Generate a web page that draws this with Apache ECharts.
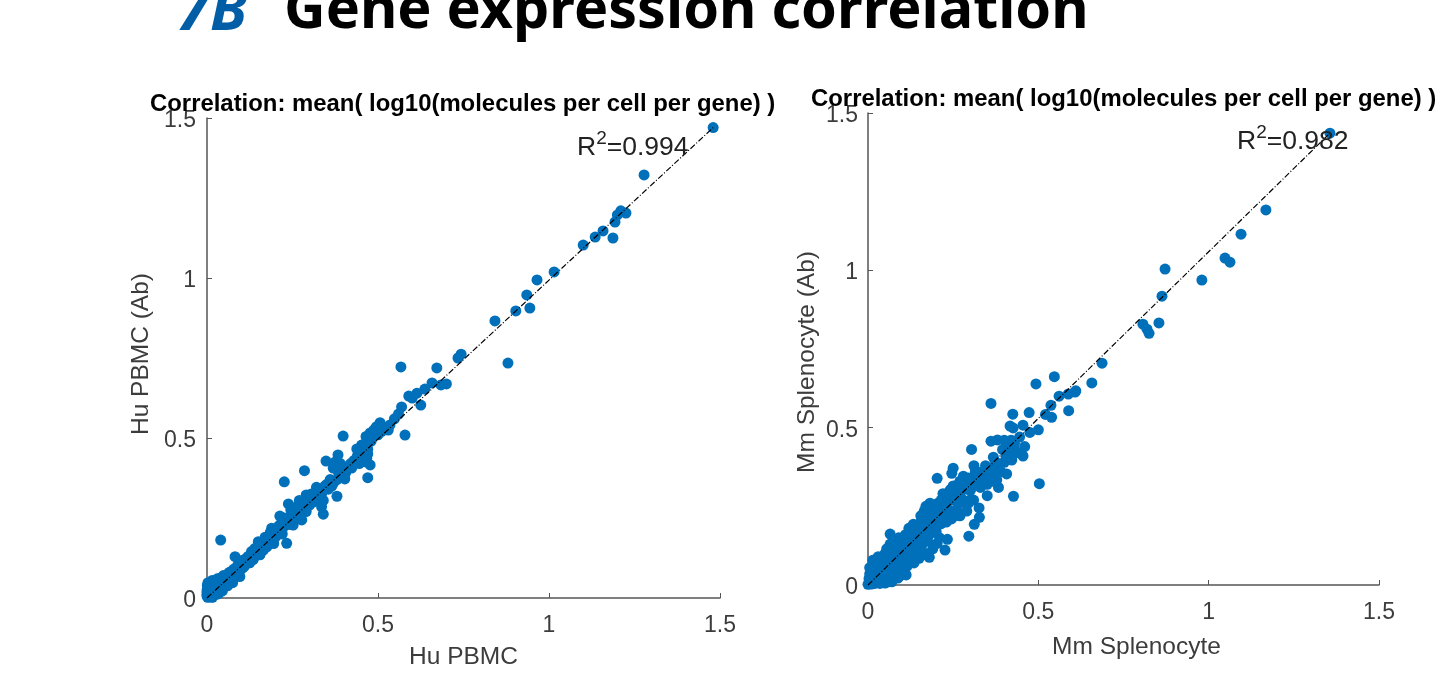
<!DOCTYPE html>
<html>
<head>
<meta charset="utf-8">
<style>html,body{margin:0;padding:0;background:#fff}#main{width:1444px;height:693px}</style>
<script src="https://cdn.jsdelivr.net/npm/echarts@6/dist/echarts.min.js"></script>
</head>
<body>
<div id="main"></div>
<script>
// values, [x, y]
var tickLabels = ['0', '0.5', '1', '1.5'];

var huPoints = [
  [1.48,1.47],[1.278,1.322],[1.21,1.21],[1.225,1.203],[1.2,1.197],[1.193,1.175],[1.187,1.125],[1.158,1.147],[1.135,1.128],[1.10,1.103],
  [1.015,1.019],[.965,.994],[.935,.947],[.944,.906],[.903,.897],[.842,.866],[.88,.734],[.743,.762],[.734,.75],[.672,.719],[.567,.722],
  [.70,.669],[.684,.666],[.658,.672],[.637,.653],[.614,.64],[.59,.631],[.625,.603],[.6,.625],[.569,.597],[.579,.509],[.56,.575],[.548,.56],[.535,.541],
  [.506,.548],[.495,.535],[.477,.516],[.398,.506],[.488,.525],[.465,.505],[.452,.478],[.438,.466],[.47,.376],[.467,.437],[.477,.416],[.46,.426],[.47,.45],[.423,.406],[.43,.43],
  [.403,.372],[.383,.447],[.369,.406],[.375,.425],[.39,.42],[.41,.41],[.348,.428],[.38,.318],[.34,.262],[.285,.398],[.226,.363],[.04,.181],
  [.36,.37],[.35,.355],[.335,.285],[.34,.305],[.33,.34],[.32,.346],[.31,.325],[.29,.322],[.3,.31],[.277,.244],[.28,.29],[.27,.305],[.262,.285],[.252,.228],
  [.238,.294],[.245,.255],[.233,.171],[.23,.24],[.22,.215],[.213,.256],[.205,.2],[.2,.215],[.189,.218],[.195,.17],[.185,.185],[.175,.16],[.17,.19],[.165,.15],
  [.15,.176],[.155,.135],[.145,.15],[.135,.12],[.13,.145],[.125,.11],[.118,.125],[.11,.1],[.105,.118],[.096,.067],[.1,.09],[.092,.105],[.085,.078],[.082,.129],
  [.078,.09],[.072,.06],[.07,.082],[.065,.068],[.06,.05],[.06,.074],[.055,.062],[.05,.042],[.05,.066],[.045,.05],[.042,.036],[.04,.056],[.036,.044],[.033,.026],
  [.03,.05],[.028,.034],[.025,.02],[.024,.042],[.02,.028],[.018,.012],[.016,.04],[.014,.022],[.012,.008],[.01,.032],[.008,.016],[.006,.004],[.005,.024],[.003,.01],
  [.002,.002],[.001,.018],[0,.006],[.001,.028],[.012,.003],[.022,.012],[.035,.015],[.26,.25],[.31,.3],[.37,.36],[.42,.42],[.215,.23],[.16,.17],[.12,.13],[.29,.27],[.255,.27]
];

// extra dots inside the dense band of the left panel
var huBand = [
  [.44,.445],[.45,.455],[.455,.44],[.445,.42],[.47,.465],[.48,.49],[.5,.51],[.51,.52],[.52,.53],[.53,.525],[.385,.39],[.395,.395],[.4,.4],[.405,.39],[.38,.37],[.365,.35],[.355,.34],[.345,.35],
  [.335,.325],[.325,.315],[.315,.31],[.305,.325],[.3,.29],[.295,.3],[.285,.285],[.275,.27],[.27,.26],[.265,.27],[.25,.245],[.245,.275],[.24,.23],[.235,.25],[.225,.225],[.225,.25],[.22,.2],[.215,.205],
  [.21,.225],[.205,.215],[.2,.19],[.195,.2],[.19,.195],[.185,.205],[.18,.175],[.175,.18],[.17,.165],[.165,.175],[.16,.15],[.155,.16],[.15,.145],[.145,.135],[.14,.155],[.14,.13],[.135,.14],[.13,.12],
  [.125,.13],[.12,.115],[.115,.11],[.11,.12],[.105,.095],[.1,.105],[.095,.085],[.09,.1],[.09,.08],[.085,.095],[.08,.07],[.08,.085],[.075,.075],[.07,.065],[.065,.08],[.065,.055],[.06,.062],[.055,.05],
  [.05,.055],[.048,.07],[.045,.035],[.04,.045],[.038,.062],[.035,.03],[.032,.04],[.03,.06],[.028,.022],[.025,.035],[.022,.05],[.02,.018],[.018,.035],[.015,.055],[.015,.012],[.012,.025],[.01,.045],
  [.008,.006],[.006,.035],[.004,.015],[.003,.048],[.002,.03],[.001,.04],[0,.012],[0,.022],[.016,.002],[.03,.012],[.045,.022],[.06,.038],[.075,.048]
];

var mmPoints = [
  [1.356,1.436],[1.168,1.192],[1.095,1.115],[1.048,1.039],[1.0625,1.026],[.98,.969],[.872,1.004],[.863,.918],[.854,.833],[.807,.829],[.819,.813],[.825,.80],
  [.687,.705],[.657,.642],[.608,.613],[.547,.662],[.493,.639],[.361,.577],[.425,.543],[.473,.548],[.537,.571],[.589,.554],[.561,.60],[.588,.607],[.61,.617],[.521,.542],[.539,.533],
  [.304,.431],[.203,.339],[.246,.355],[.25,.371],[.503,.322],[.427,.282],[.296,.155],[.312,.193],[.327,.215],[.326,.245],[.226,.111],[.233,.145],[.203,.132],[.18,.088],
  [.065,.162],[.014,.079],[.5,.493],[.455,.508],[.417,.505],[.426,.499],[.38,.461],[.361,.457],[.455,.41],[.422,.397],[.368,.406],[.311,.379],[.345,.379],[.28,.346],
  [.407,.353],[.383,.31],[.378,.334],[.35,.284],[.244,.305],[.182,.26],[.133,.193],[.088,.022],[.112,.032],[.128,.079],[.05,.006],
  [.475,.485],[.445,.47],[.46,.44],[.43,.45],[.41,.445],[.395,.43],[.44,.42],[.4,.39],[.385,.385],[.36,.37],[.39,.36],[.335,.36],[.32,.35],[.345,.335],[.31,.33],[.295,.34],
  [.33,.31],[.3,.3],[.28,.31],[.265,.32],[.25,.315],[.27,.28],[.31,.27],[.285,.26],[.26,.295],[.24,.275],[.22,.29],[.205,.26],[.21,.245],[.235,.24],[.26,.24],[.29,.235],[.245,.21],
  [.225,.22],[.2,.225],[.19,.25],[.175,.21],[.19,.19],[.215,.195],[.165,.235],[.155,.2],[.16,.17],[.18,.16],[.2,.17],[.145,.17],[.125,.16],[.14,.145],[.16,.13],[.14,.115],
  [.12,.135],[.105,.15],[.095,.12],[.115,.1],[.13,.1],[.1,.095],[.085,.13],[.08,.1],[.09,.075],[.11,.065],[.1,.05],[.07,.115],[.07,.08],[.06,.095],[.075,.055],[.085,.04],
  [.055,.07],[.05,.1],[.04,.085],[.06,.045],[.045,.055],[.065,.02],[.04,.03],[.03,.065],[.025,.045],[.02,.06],[.03,.02],[.015,.03],[.012,.05],[.01,.015],[.005,.035],[.004,.008],[0,.002],[.02,.005],[.035,.005],[.07,.01]
];

// extra dots inside the dense band of the right panel
var mmBand = [
  [.43,.43],[.415,.42],[.405,.41],[.42,.46],[.4,.46],[.375,.39],[.37,.36],[.355,.35],[.34,.35],[.35,.32],[.365,.33],[.325,.34],[.315,.36],[.305,.31],[.29,.32],[.3,.27],[.275,.3],[.27,.33],[.255,.29],
  [.265,.26],[.28,.27],[.295,.26],[.25,.27],[.24,.3],[.23,.26],[.225,.28],[.215,.27],[.22,.24],[.24,.22],[.255,.22],[.27,.22],[.23,.2],[.21,.21],[.2,.24],[.195,.21],[.185,.23],[.17,.25],[.18,.2],
  [.17,.19],[.155,.22],[.15,.185],[.165,.155],[.19,.17],[.175,.14],[.155,.15],[.145,.15],[.135,.17],[.13,.15],[.12,.18],[.11,.16],[.12,.12],[.13,.125],[.15,.11],[.105,.125],[.1,.14],[.09,.15],
  [.09,.1],[.1,.11],[.11,.085],[.12,.07],[.125,.09],[.1,.07],[.085,.085],[.075,.13],[.075,.1],[.065,.13],[.065,.1],[.055,.115],[.06,.07],[.07,.06],[.08,.065],[.09,.055],[.095,.03],[.08,.025],
  [.075,.035],[.05,.08],[.05,.05],[.045,.035],[.04,.07],[.035,.05],[.035,.02],[.03,.09],[.025,.075],[.02,.04],[.02,.02],[.015,.065],[.01,.04],[.008,.025],[.005,.055],[.003,.02],[.055,.025],[.06,.01],[.045,.012],[.025,.008],[.01,.003],
  [.115,.06],[.135,.07],[.15,.085],[.16,.095],[.17,.1],[.19,.115],[.21,.15]
];

var huFit = [[0, 0], [1.48, 1.47]];
var mmFit = [[0, 0], [1.356, 1.436]];

var axisGrey = '#555555';
var textGrey = '#3c3c3c';
var dotBlue = '#0070bb';
var armFont = '"Liberation Sans"';

function makeAxis(name, idx, gap, pad, labelGap, labelPad) {
  return {
    type: 'value', gridIndex: idx, min: 0, max: 1.5, interval: 0.5,
    name: name, nameLocation: 'middle', nameGap: gap,
    nameTextStyle: { fontFamily: armFont, fontSize: 24.5, color: textGrey, padding: pad },
    axisLine: { show: true, onZero: false, lineStyle: { color: axisGrey, width: 1.5 } },
    axisTick: { show: true, inside: true, length: 5, lineStyle: { color: axisGrey } },
    splitLine: { show: false },
    axisLabel: {
      margin: labelGap,
      showMinLabel: true, showMaxLabel: true, hideOverlap: false,
      formatter: function (v) { return '{t|' + tickLabels[Math.round(v * 2)] + '}'; },
      rich: { t: { fontFamily: armFont, fontSize: 23, color: textGrey, padding: labelPad } }
    }
  };
}

function dots(points, idx) {
  return {
    type: 'scatter', xAxisIndex: idx, yAxisIndex: idx, data: points,
    symbolSize: 11, clip: false, silent: true, animation: false,
    itemStyle: { color: dotBlue, opacity: 1 }, z: 2
  };
}

function fitLine(points, idx) {
  return {
    type: 'line', xAxisIndex: idx, yAxisIndex: idx, data: points,
    showSymbol: false, clip: false, silent: true, animation: false,
    lineStyle: { color: '#000', width: 1.2, type: [6, 2, 1, 2] }, z: 3
  };
}

function r2Title(text, left, top) {
  return {
    text: '{b|R}{s|2}{b|=' + text + '}', left: left, top: top,
    textStyle: {
      rich: {
        b: { fontFamily: armFont, fontSize: 26.5, fontWeight: 'normal', color: '#222', verticalAlign: 'bottom', lineHeight: 32 },
        s: { fontFamily: armFont, fontSize: 19, fontWeight: 'normal', color: '#222', verticalAlign: 'top', lineHeight: 32 }
      }
    }
  };
}

function plotTitle(left, top) {
  return {
    text: 'Correlation: mean( log10(molecules per cell per gene) )', left: left, top: top,
    textStyle: { fontFamily: armFont, fontSize: 23.9, fontWeight: 'bold', color: '#000' }
  };
}

var chart = echarts.init(document.getElementById('main'));
chart.setOption({
  backgroundColor: '#fff',
  animation: false,
  title: [
    { text: '7B', left: 172, top: -22, textStyle: { fontFamily: '"Noto Sans"', fontSize: 60, fontWeight: 'bold', fontStyle: 'italic', color: '#005da6' } },
    { text: 'Gene expression correlation', left: 279, top: -22, textStyle: { fontFamily: '"Noto Sans"', fontSize: 57.5, fontWeight: 'bold', color: '#000' } },
    plotTitle(145, 87),
    plotTitle(806, 82),
    r2Title('0.994', 572, 124),
    r2Title('0.982', 1232, 118)
  ],
  grid: [
    { left: 207, top: 118, width: 513, height: 480 },
    { left: 868, top: 113, width: 511, height: 472 }
  ],
  xAxis: [
    makeAxis('Hu PBMC', 0, 47, [0, 0, 0, 0], 16, 0),
    makeAxis('Mm Splenocyte', 1, 50, [0, 0, 0, 26], 16, 0)
  ],
  yAxis: [
    makeAxis('Hu PBMC (Ab)', 0, 53, [0, 0, 0, 8], 11, [5, 0, 0, 0]),
    makeAxis('Mm Splenocyte (Ab)', 1, 48, [0, 26, 0, 0], 10, [5, 0, 0, 0])
  ],
  series: [
    dots(huPoints, 0), dots(huBand, 0), fitLine(huFit, 0),
    dots(mmPoints, 1), dots(mmBand, 1), fitLine(mmFit, 1)
  ]
});
</script>
</body>
</html>
